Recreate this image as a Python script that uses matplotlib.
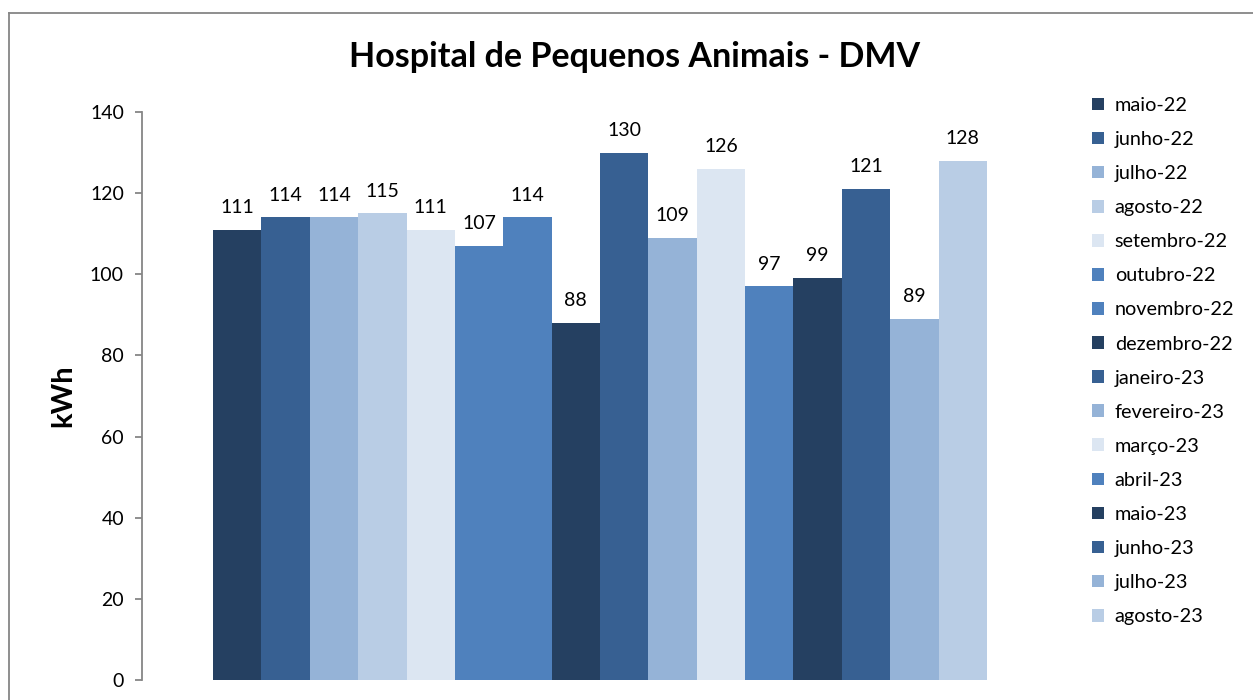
import matplotlib
matplotlib.use('Agg')
import matplotlib.pyplot as plt
from matplotlib.patches import Patch
from matplotlib.lines import Line2D

plt.rcParams['font.family'] = ['Lato', 'DejaVu Sans']

meses = ['maio-22', 'junho-22', 'julho-22', 'agosto-22', 'setembro-22', 'outubro-22',
         'novembro-22', 'dezembro-22', 'janeiro-23', 'fevereiro-23', 'março-23', 'abril-23',
         'maio-23', 'junho-23', 'julho-23', 'agosto-23']
consumo = [111, 114, 114, 115, 111, 107, 114, 88, 130, 109, 126, 97, 99, 121, 89, 128]
cores = ['#254061', '#376092', '#95B3D7', '#B9CDE5', '#DCE6F2', '#4F81BD',
         '#4F81BD', '#254061', '#376092', '#95B3D7', '#DCE6F2', '#4F81BD',
         '#254061', '#376092', '#95B3D7', '#B9CDE5']

W, H = 1253, 700
fig = plt.figure(figsize=(W / 100, H / 100), dpi=100)
ax = fig.add_axes([142 / W, 20 / H, (1058 - 142) / W, (680 - 112) / H])

x = list(range(len(consumo)))
bars = ax.bar(x, consumo, width=1.0, color=cores, linewidth=0)
for b, v in zip(bars, consumo):
    ax.annotate(str(v), (b.get_x() + b.get_width() / 2, v), xytext=(0, 10),
                textcoords='offset points', ha='center', va='bottom', fontsize=14)

ax.set_ylim(0, 140)
ax.set_yticks(range(0, 141, 20))
ax.set_xlim(-0.5 - 1.47, 15.5 + 1.47)
ax.set_xticks([])
for s in ['top', 'right', 'bottom']:
    ax.spines[s].set_visible(False)
ax.spines['left'].set_color('#868686')
ax.spines['left'].set_linewidth(1.3)
ax.tick_params(axis='y', direction='out', length=5, width=1.3, color='#868686',
               labelsize=14, pad=8)
ax.set_ylabel('kWh', fontsize=21, fontweight='bold', labelpad=10)

fig.text(635 / W, 1 - 57 / H, 'Hospital de Pequenos Animais - DMV', ha='center',
         va='center', fontsize=24.5, fontweight='bold')

handles = [Patch(facecolor=c, edgecolor='none') for c in cores]
fig.legend(handles, meses, loc='upper left', bbox_to_anchor=(1092 / W, 1 - 97 / H),
           frameon=False, fontsize=14.3, handlelength=0.6, handleheight=0.6,
           handletextpad=0.55, labelspacing=0.86, borderaxespad=0, borderpad=0)

# moldura do gráfico
fig.add_artist(Line2D([9 / W, 9 / W], [0, 1 - 13 / H], transform=fig.transFigure,
                      color='#868686', linewidth=1.3))
fig.add_artist(Line2D([9 / W, 1], [1 - 13 / H, 1 - 13 / H], transform=fig.transFigure,
                      color='#868686', linewidth=1.3))

fig.savefig('out.png', dpi=100)
